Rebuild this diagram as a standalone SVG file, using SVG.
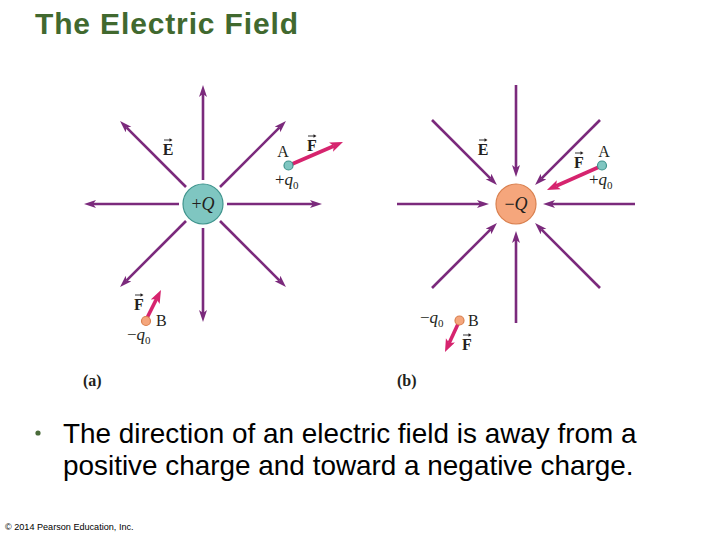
<svg xmlns="http://www.w3.org/2000/svg" xmlns:xlink="http://www.w3.org/1999/xlink" width="720" height="540" viewBox="0 0 720 540">
<style>
.field{stroke:#7b2a7c;stroke-width:2.6;fill:none;marker-end:url(#mf)}
.force{stroke:#d6246e;stroke-width:3.6;fill:none;marker-end:url(#mF)}
.lbl{font-family:"Liberation Serif","DejaVu Serif",serif;fill:#231f20}
.vec{font-family:"Liberation Serif","DejaVu Serif",serif;font-weight:bold;font-size:16px;fill:#231f20;text-anchor:middle}
.sub{font-size:11px}
.pos{fill:#7fc6c1;stroke:#3f948d;stroke-width:1.2}
.neg{fill:#f5a67c;stroke:#d9804f;stroke-width:1.2}
.cap{font-family:"Liberation Serif","DejaVu Serif",serif;font-weight:bold;font-size:16px;fill:#231f20}
</style>
<defs>
<marker id="mf" markerUnits="userSpaceOnUse" markerWidth="14" markerHeight="10" refX="3" refY="4" orient="auto">
<path d="M0,0 L12,4 L0,8 L3,4 z" fill="#7b2a7c"/>
</marker>
<marker id="mF" markerUnits="userSpaceOnUse" markerWidth="16" markerHeight="12" refX="3" refY="5" orient="auto">
<path d="M0,0 L13,5 L0,10 L3,5 z" fill="#d6246e"/>
</marker>
<g id="va">
<path d="M-4,0 L3,0" stroke="#231f20" stroke-width="0.9" fill="none"/>
<path d="M1.5,-1.8 L4.5,0 L1.5,1.8 z" fill="#231f20"/>
</g>
</defs>
<rect width="720" height="540" fill="#ffffff"/>

<text x="35" y="34" font-family="Liberation Sans, Arial, sans-serif" font-weight="bold" font-size="30" fill="#41692f" textLength="263">The Electric Field</text>

<g id="connectors">
<path class="field" d="M203,180 L203,94"/>
<path class="field" d="M203,228 L203,313"/>
<path class="field" d="M179,204 L93,204"/>
<path class="field" d="M227,204 L313,204"/>
<path class="field" d="M186,187 L126.4,127.4"/>
<path class="field" d="M220,187 L279.6,127.4"/>
<path class="field" d="M186,221 L126.4,280.6"/>
<path class="field" d="M220,221 L279.6,280.6"/>
<path class="field" d="M516,85 L516,168"/>
<path class="field" d="M516,323 L516,240"/>
<path class="field" d="M397,204 L480,204"/>
<path class="field" d="M635,204 L552,204"/>
<path class="field" d="M432,120 L490.6,178.6"/>
<path class="field" d="M600,120 L541.4,178.6"/>
<path class="field" d="M432,288 L490.6,229.4"/>
<path class="field" d="M600,288 L541.4,229.4"/>
<path class="force" d="M291,164.5 L333.8,146"/>
<path class="force" d="M147,318 L156.5,299"/>
<path class="force" d="M599,167 L556.1,186"/>
<path class="force" d="M458,324 L449.2,343"/>
</g>

<g id="label-E-a">
<text class="vec" x="168" y="155">E</text>
<use xlink:href="#va" x="168" y="140"/>
</g>
<g id="label-E-b">
<text class="vec" x="483" y="155">E</text>
<use xlink:href="#va" x="483" y="140"/>
</g>

<g id="charge-posQ">
<circle class="pos" cx="203" cy="204" r="20"/>
<text class="lbl" x="203" y="210" font-size="18" text-anchor="middle">+<tspan font-style="italic">Q</tspan></text>
</g>
<g id="charge-negQ">
<circle class="neg" cx="516" cy="204" r="20"/>
<text class="lbl" x="516" y="210" font-size="18" text-anchor="middle">−<tspan font-style="italic">Q</tspan></text>
</g>

<g id="a-pointA">
<circle class="pos" cx="288.5" cy="165.5" r="4.5"/>
<text class="lbl" x="283" y="157" font-size="16" text-anchor="middle">A</text>
<text class="lbl" x="275" y="185" font-size="17">+<tspan font-style="italic">q</tspan><tspan class="sub" dy="4">0</tspan></text>
<text class="vec" x="312" y="151">F</text>
<use xlink:href="#va" x="312" y="136"/>
</g>
<g id="a-pointB">
<circle class="neg" cx="146" cy="321" r="4.5"/>
<text class="lbl" x="156" y="326" font-size="16">B</text>
<text class="lbl" x="127" y="340" font-size="17">−<tspan font-style="italic">q</tspan><tspan class="sub" dy="4">0</tspan></text>
<text class="vec" x="139" y="310">F</text>
<use xlink:href="#va" x="139" y="295"/>
</g>
<g id="b-pointA">
<circle class="pos" cx="602" cy="165.5" r="4.5"/>
<text class="lbl" x="604" y="157" font-size="16" text-anchor="middle">A</text>
<text class="lbl" x="589" y="185" font-size="17">+<tspan font-style="italic">q</tspan><tspan class="sub" dy="4">0</tspan></text>
<text class="vec" x="579" y="168">F</text>
<use xlink:href="#va" x="579" y="153"/>
</g>
<g id="b-pointB">
<circle class="neg" cx="459.5" cy="320.5" r="4.5"/>
<text class="lbl" x="468" y="326" font-size="16">B</text>
<text class="lbl" x="420" y="323" font-size="17">−<tspan font-style="italic">q</tspan><tspan class="sub" dy="4">0</tspan></text>
<text class="vec" x="467" y="350">F</text>
<use xlink:href="#va" x="467" y="335"/>
</g>

<text class="cap" x="83" y="386">(a)</text>
<text class="cap" x="397" y="386">(b)</text>

<g id="bullet" font-family="Liberation Sans, Arial, sans-serif" font-size="27.9" fill="#000000">
<circle cx="38" cy="433" r="2.6" fill="#4a6b3a"/>
<text x="63" y="443">The direction of an electric field is away from a</text>
<text x="63" y="475">positive charge and toward a negative charge.</text>
</g>

<text x="5" y="530" font-family="Liberation Sans, Arial, sans-serif" font-size="9.1" fill="#000000">© 2014 Pearson Education, Inc.</text>
</svg>
